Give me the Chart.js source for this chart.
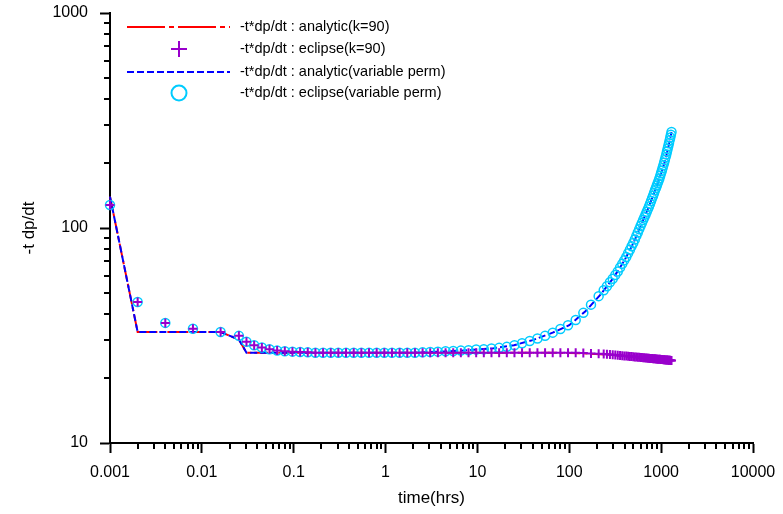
<!DOCTYPE html>
<html>
<head>
<meta charset="utf-8">
<script src="https://cdn.jsdelivr.net/npm/chart.js@4"></script>
<style>
  html, body { margin: 0; padding: 0; background: #fff; }
</style>
</head>
<body>
<canvas id="pressureChart" width="783" height="514"></canvas>
<script>
// eclipse output times (hrs)
const timeHrs = [0.001, 0.002, 0.004, 0.008, 0.016,
  0.0253, 0.0306, 0.0371, 0.045, 0.0545, 0.066, 0.08, 0.0969, 0.1174, 0.1422, 0.1723, 0.2088,
  0.253, 0.306, 0.371, 0.45, 0.545, 0.66, 0.8, 0.969, 1.174, 1.422, 1.723, 2.088,
  2.53, 3.06, 3.71, 4.5, 5.45, 6.6, 8.0, 9.69, 11.74, 14.22, 17.23, 20.88,
  25.3, 30.6, 37.1, 45.0, 54.5, 66.0, 80.0, 96.9, 117.4, 142.2, 172.3, 208.8,
  237, 257, 277, 297, 317, 337, 357, 377, 397, 417, 437, 457, 477, 497, 517, 537, 557, 577,
  597, 617, 637, 657, 677, 697, 717, 737, 757, 777, 797, 817, 837, 857, 877, 897, 917, 937,
  957, 977, 997, 1017, 1037, 1057, 1077, 1097, 1117, 1137, 1157, 1177, 1197, 1217, 1237, 1257,
  1277, 1297];

const eclipseK90 = [128, 45.3, 36.2, 34.0, 32.8,
  31.5, 29.6, 28.5, 27.8, 27.3, 26.9, 26.7, 26.6, 26.5, 26.4, 26.3, 26.3,
  26.3, 26.3, 26.3, 26.3, 26.3, 26.3, 26.3, 26.3, 26.3, 26.3, 26.3, 26.3,
  26.3, 26.3, 26.3, 26.3, 26.3, 26.3, 26.3, 26.3, 26.3, 26.3, 26.3, 26.3,
  26.3, 26.3, 26.3, 26.3, 26.3, 26.3, 26.3, 26.3, 26.3, 26.2, 26.1, 26.0,
  25.93, 25.85, 25.78, 25.70, 25.64, 25.57, 25.52, 25.46, 25.41, 25.36,
  25.31, 25.26, 25.22, 25.18, 25.14, 25.10, 25.06, 25.03, 24.99, 24.96,
  24.93, 24.89, 24.86, 24.83, 24.80, 24.78, 24.75, 24.72, 24.70, 24.67,
  24.65, 24.62, 24.60, 24.58, 24.55, 24.53, 24.51, 24.49, 24.47, 24.45,
  24.43, 24.41, 24.39, 24.37, 24.35, 24.33, 24.32, 24.30, 24.28, 24.27,
  24.25, 24.23, 24.22, 24.20];

const eclipseVar = [128, 45.3, 36.2, 34.0, 32.8,
  31.5, 29.6, 28.5, 27.8, 27.3, 26.9, 26.7, 26.6, 26.5, 26.4, 26.3, 26.3,
  26.3, 26.3, 26.3, 26.3, 26.3, 26.3, 26.3, 26.3, 26.3, 26.3, 26.3, 26.3,
  26.4, 26.5, 26.6, 26.7, 26.8, 26.9, 27.0, 27.2, 27.3, 27.5, 27.7, 28.0,
  28.5, 29.1, 29.8, 30.6, 31.5, 32.6, 33.9, 35.3, 37.3, 40.3, 44.0, 48.2,
  51.3, 53.6, 55.9, 58.1, 60.4, 62.8, 65.5, 68.1, 70.7, 73.3,
  76.3, 79.2, 82.2, 85.1, 88.5, 91.9, 95.3, 98.7, 102.1, 105.5,
  109, 112.2, 115.5, 118.9, 122.4, 126, 129.7, 133.5, 137.4, 141.4,
  145.5, 149.7, 153.5, 157.5, 161.5, 165.7, 170.1, 174.8, 179.7, 184.8,
  190.1, 195.6, 201.4, 207.4, 213.6, 220, 226.7, 233.6, 240.7, 248,
  255.6, 263.4, 271.4, 279.6];

// analytic solution
const analyticTime = [0.001, 0.002, 0.016, 0.0253, 0.0306, 0.5, 2, 4, 8, 15, 25, 40, 66, 100,
  150, 215, 300, 400, 500, 637, 750, 891, 1000, 1100, 1200, 1297];
const analyticK90 = [140, 32.8, 32.8, 30.3, 26.3, 26.3, 26.3, 26.3, 26.3, 26.3, 26.3, 26.3, 26.3, 26.2,
  26.1, 25.9, 25.7, 25.4, 25.1, 24.9, 24.7, 24.5, 24.4, 24.3, 24.2, 24.1];
const analyticVar = [140, 32.8, 32.8, 30.3, 26.3, 26.3, 26.3, 26.6, 27.0, 27.6, 28.5, 30.1, 32.6, 35.3,
  41.0, 48.6, 58.3, 70.9, 85.2, 108.8, 128.4, 156.0, 179.2, 204.5, 238.5, 279.6];

const xTickValues = [0.001, 0.01, 0.1, 1, 10, 100, 1000, 10000];
const xTickLabels = ['0.001', '0.01', '0.1', '1', '10', '100', '1000', '10000'];
const yTickValues = [10, 100, 1000];
const yTickLabels = ['10', '100', '1000'];

const FONT = 'Liberation Sans, Arial, sans-serif';

function points(xs, ys) {
    return xs.map(function(x, i) { return { x: x, y: ys[i] }; });
}

// short minor ticks outside the axes
const minorTicks = {
    id: 'minorTicks',
    afterDraw: function(chart) {
        const ctx = chart.ctx;
        const area = chart.chartArea;
        const xs = chart.scales.x, ys = chart.scales.y;
        ctx.save();
        ctx.strokeStyle = '#000';
        ctx.lineWidth = 2;
        ctx.beginPath();
        for (let d = 0.001; d < 9999; d *= 10) {
            for (let k = 2; k <= 9; k++) {
                const px = Math.round(xs.getPixelForValue(k * d));
                ctx.moveTo(px, area.bottom);
                ctx.lineTo(px, area.bottom + 6);
            }
        }
        for (let d = 10; d < 999; d *= 10) {
            for (let k = 2; k <= 9; k++) {
                const py = Math.round(ys.getPixelForValue(k * d));
                ctx.moveTo(area.left, py);
                ctx.lineTo(area.left - 6, py);
            }
        }
        ctx.stroke();
        ctx.restore();
    }
};

// legend in the upper left of the plot
const boxLegend = {
    id: 'boxLegend',
    afterDraw: function(chart) {
        const ctx = chart.ctx;
        const rows = [27, 49, 72, 93];
        ctx.save();
        chart.data.datasets.forEach(function(ds, i) {
            const y = rows[i];
            ctx.strokeStyle = ds.borderColor;
            ctx.lineWidth = 2;
            ctx.beginPath();
            if (ds.showLine) {
                ctx.setLineDash(ds.legendDash);
                ctx.moveTo(127, y);
                ctx.lineTo(230, y);
            } else if (ds.pointStyle === 'cross') {
                ctx.setLineDash([]);
                ctx.moveTo(171, y); ctx.lineTo(187, y);
                ctx.moveTo(179, y - 8); ctx.lineTo(179, y + 8);
            } else {
                ctx.setLineDash([]);
                ctx.arc(179, y, 7.5, 0, Math.PI * 2);
            }
            ctx.stroke();
            ctx.setLineDash([]);
            ctx.fillStyle = '#000';
            ctx.font = '14.5px ' + FONT;
            ctx.textBaseline = 'middle';
            ctx.fillText(ds.label, 240, y);
        });
        ctx.restore();
    }
};

const ctx = document.getElementById('pressureChart').getContext('2d');

new Chart(ctx, {
    type: 'scatter',
    data: {
        datasets: [{
            label: '-t*dp/dt : analytic(k=90)',
            data: points(analyticTime, analyticK90),
            showLine: true,
            borderColor: '#ff0000',
            borderWidth: 2,
            borderDash: [14, 3, 4, 3],
            legendDash: [38, 4, 5, 4],
            pointRadius: 0,
            clip: false,
            order: 3
        }, {
            label: '-t*dp/dt : eclipse(k=90)',
            data: points(timeHrs, eclipseK90),
            showLine: false,
            pointStyle: 'cross',
            pointRadius: 4.5,
            borderColor: '#9900cc',
            pointBorderWidth: 2,
            clip: false,
            order: 0
        }, {
            label: '-t*dp/dt : analytic(variable perm)',
            data: points(analyticTime, analyticVar),
            showLine: true,
            borderColor: '#0000ff',
            borderWidth: 2,
            borderDash: [7, 3],
            legendDash: [7, 3],
            pointRadius: 0,
            clip: false,
            order: 2
        }, {
            label: '-t*dp/dt : eclipse(variable perm)',
            data: points(timeHrs, eclipseVar),
            showLine: false,
            pointStyle: 'circle',
            pointRadius: 4.5,
            borderColor: '#00ccff',
            backgroundColor: 'rgba(0,0,0,0)',
            pointBorderWidth: 1.5,
            clip: false,
            order: 1
        }]
    },
    options: {
        responsive: false,
        animation: false,
        layout: { padding: { left: 0, right: 30, top: 13, bottom: 0 } },
        plugins: {
            legend: { display: false },
            tooltip: { enabled: false }
        },
        scales: {
            x: {
                type: 'logarithmic',
                position: 'bottom',
                min: 0.001,
                max: 10000,
                afterBuildTicks: function(s) { s.ticks = xTickValues.map(function(v) { return { value: v }; }); },
                afterFit: function(s) {
                    s.height = 71;
                    s.paddingLeft = 0;
                    s.paddingRight = 0;
                },
                ticks: {
                    autoSkip: false,
                    maxRotation: 0,
                    padding: 10,
                    color: '#000',
                    font: { family: FONT, size: 16 },
                    callback: function(v, i) { return xTickLabels[i]; }
                },
                grid: { drawOnChartArea: false, tickLength: 10, tickWidth: 2, tickColor: '#000' },
                border: { color: '#000', width: 2 },
                title: {
                    display: true,
                    text: 'time(hrs)',
                    color: '#000',
                    font: { family: FONT, size: 17 },
                    padding: { top: 0, bottom: 5 }
                }
            },
            y: {
                type: 'logarithmic',
                min: 10,
                max: 1000,
                afterBuildTicks: function(s) { s.ticks = yTickValues.map(function(v) { return { value: v }; }); },
                afterFit: function(s) {
                    s.width = 110;
                    s.paddingTop = 0;
                    s.paddingBottom = 0;
                },
                ticks: {
                    autoSkip: false,
                    padding: 12,
                    color: '#000',
                    font: { family: FONT, size: 16 },
                    callback: function(v, i) { return yTickLabels[i]; }
                },
                grid: { drawOnChartArea: false, tickLength: 10, tickWidth: 2, tickColor: '#000' },
                border: { color: '#000', width: 2 },
                title: {
                    display: true,
                    text: '-t dp/dt',
                    color: '#000',
                    font: { family: FONT, size: 17 },
                    padding: { top: 19, bottom: 0 }
                }
            }
        }
    },
    plugins: [minorTicks, boxLegend]
});
</script>
</body>
</html>
